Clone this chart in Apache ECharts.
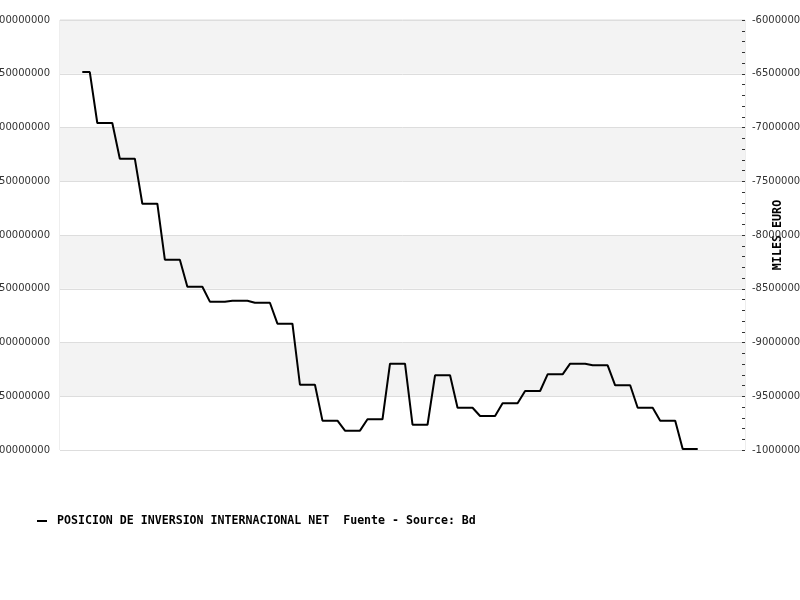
<!DOCTYPE html>
<html>
<head>
<meta charset="utf-8">
<script src="https://cdn.jsdelivr.net/npm/echarts@6/dist/echarts.min.js"></script>
<style>html,body{margin:0;padding:0;background:#fff}#c{width:800px;height:600px}</style>
</head>
<body>
<div id="c"></div>
<script>
// Series name (legend text)
const seriesName = 'POSICION DE INVERSION INTERNACIONAL NET  Fuente - Source: Bd';
// Monthly values (miles de euros)
const values = [
  -648400000, -648400000,
  -695800000, -695800000, -695800000,
  -729000000, -729000000, -729000000,
  -770900000, -770900000, -770900000,
  -823000000, -823000000, -823000000,
  -848100000, -848100000, -848100000,
  -862000000, -862000000, -862000000,
  -861100000, -861100000, -861100000,
  -863000000, -863000000, -863000000,
  -882500000, -882500000, -882500000,
  -939300000, -939300000, -939300000,
  -972700000, -972700000, -972700000,
  -982000000, -982000000, -982000000,
  -971400000, -971400000, -971400000,
  -919700000, -919700000, -919700000,
  -976500000, -976500000, -976500000,
  -930500000, -930500000, -930500000,
  -960700000, -960700000, -960700000,
  -968400000, -968400000, -968400000,
  -956600000, -956600000, -956600000,
  -945100000, -945100000, -945100000,
  -929600000, -929600000, -929600000,
  -919700000, -919700000, -919700000,
  -921200000, -921200000, -921200000,
  -939800000, -939800000, -939800000,
  -960700000, -960700000, -960700000,
  -972700000, -972700000, -972700000,
  -999100000, -999100000, -999100000
];
// Y axis scale (tick labels)
const yMin = -1000000000;
const yMax = -600000000;
const yStep = 50000000;
const yAxisName = 'MILES EURO';

const points = values.map((v, i) => [i, v]);

const chart = echarts.init(document.getElementById('c'), null, {renderer: 'canvas'});
const labelStyle = {color: '#333', fontSize: 10, fontFamily: 'DejaVu Sans', padding: [3, 0, 0, 0], formatter: v => String(v)};
chart.setOption({
  animation: false,
  backgroundColor: '#fff',
  grid: {left: 60, right: 55, top: 20, bottom: 150, containLabel: false, outerBoundsMode: 'none',
         show: true, borderColor: '#dddddd', borderWidth: 1, backgroundColor: 'transparent'},
  xAxis: {type: 'value', min: -2.97, max: 88.3, show: false},
  yAxis: [
    {
      type: 'value', min: yMin, max: yMax, interval: yStep, position: 'left',
      axisLine: {show: false}, axisTick: {show: false},
      axisLabel: Object.assign({margin: 10}, labelStyle),
      splitLine: {show: true, lineStyle: {color: '#dddddd', width: 1}},
      splitArea: {show: true, areaStyle: {color: ['#ffffff', '#f3f3f3']}}
    },
    {
      type: 'value', min: yMin, max: yMax, interval: yStep, position: 'right',
      name: yAxisName, nameLocation: 'middle', nameRotate: 90, nameGap: 27, nameMoveOverlap: false,
      nameTextStyle: {fontFamily: 'DejaVu Sans Mono', fontWeight: 'bold', fontSize: 11.7, color: '#000'},
      axisLine: {show: false},
      axisTick: {show: true, inside: true, length: 3, lineStyle: {color: '#333'}},
      minorTick: {show: true, splitNumber: 5, length: 3, lineStyle: {color: '#333'}},
      axisLabel: Object.assign({margin: 7}, labelStyle),
      splitLine: {show: false}
    }
  ],
  legend: {
    left: 37, top: 515, padding: 0,
    itemWidth: 10, itemHeight: 2, icon: 'rect',
    textStyle: {fontFamily: 'DejaVu Sans Mono', fontWeight: 'bold', fontSize: 11.6, color: '#000', padding: [0, 0, 0, 5]},
    data: [seriesName]
  },
  series: [{
    name: seriesName, type: 'line', yAxisIndex: 0,
    data: points, showSymbol: false, symbol: 'none',
    lineStyle: {color: '#000', width: 2},
    itemStyle: {color: '#000'}
  }]
});
</script>
</body>
</html>
